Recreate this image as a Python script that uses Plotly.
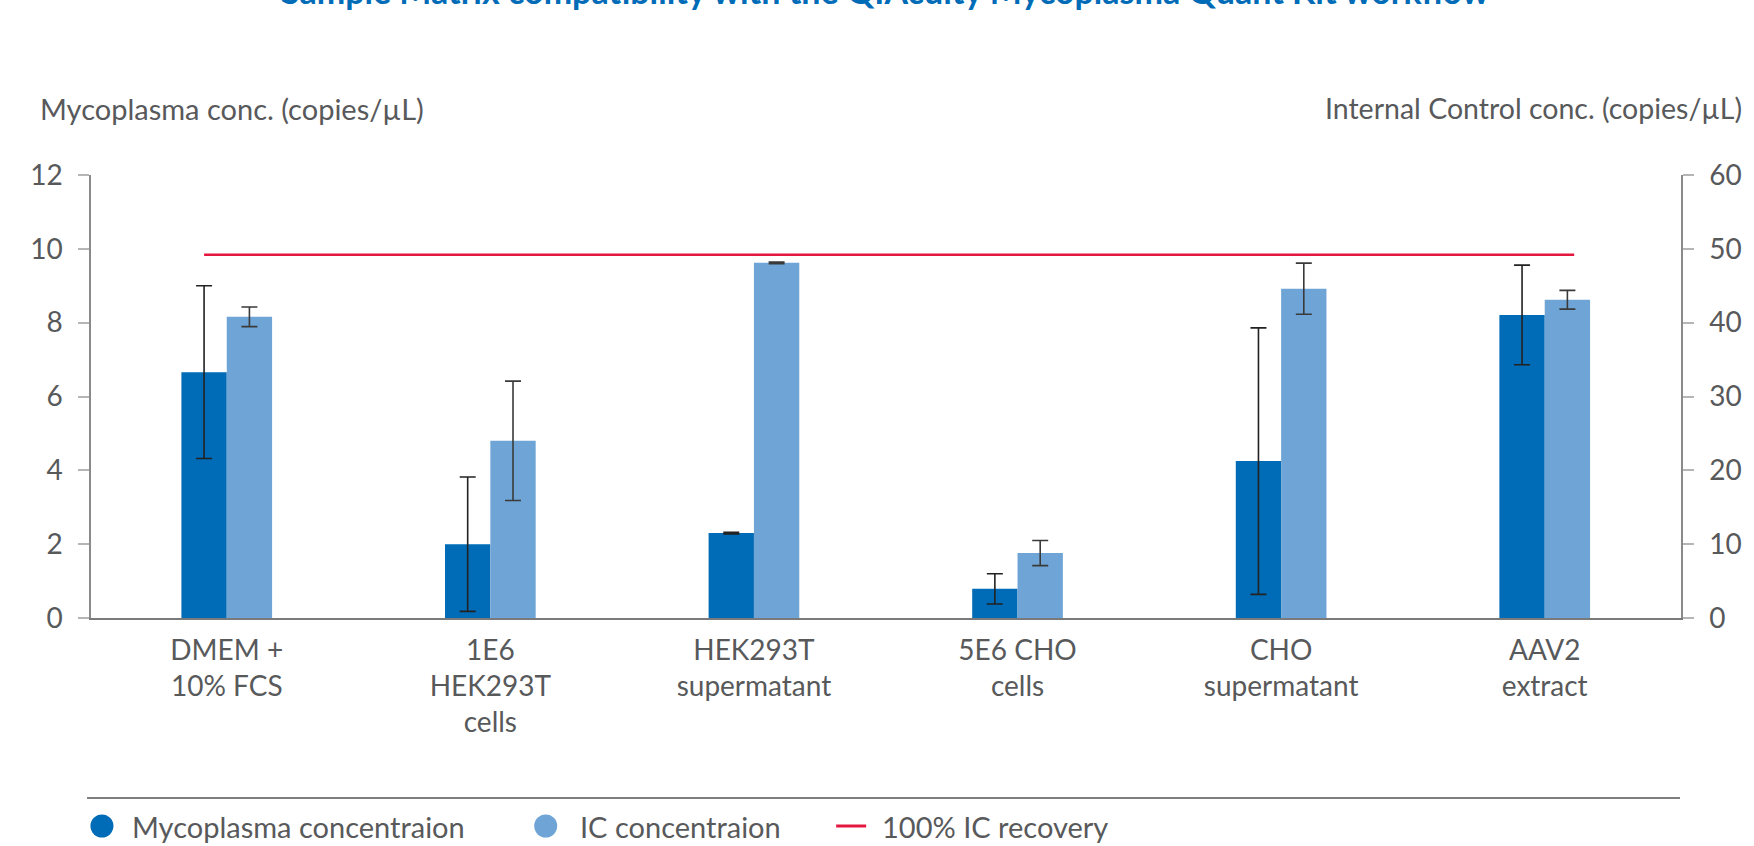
import plotly.graph_objects as go

# ---------------- data ----------------
categories = ["DMEM +<br>10% FCS", "1E6<br>HEK293T<br>cells", "HEK293T<br>supermatant",
              "5E6 CHO<br>cells", "CHO<br>supermatant", "AAV2<br>extract"]
myco_conc = [6.66, 2.00, 2.30, 0.79, 4.25, 8.21]
myco_err = [2.34, 1.82, 0.02, 0.41, 3.61, 1.35]
ic_conc = [40.8, 24.0, 48.1, 8.8, 44.6, 43.1]
ic_err = [1.33, 8.08, 0.10, 1.70, 3.47, 1.27]
ic_recovery_100 = 49.2
left_ticks = [0, 2, 4, 6, 8, 10, 12]
right_ticks = [0, 10, 20, 30, 40, 50, 60]

# ---------------- style ----------------
FONT = "Lato"
TXT = "#58595b"
DARK = "#006bb6"
LIGHT = "#6fa5d6"
RED = "#e4173e"
BAR_W = 0.172

W, H = 1754, 846
ML, MR, MT, MB = 91, 65, 175, 228
PW = W - ML - MR
PH = H - MT - MB


def px_x(p):
    return (p - ML) / PW


def px_y(p):
    return (H - MB - p) / PH


xs = list(range(len(categories)))

fig = go.Figure()
fig.add_trace(go.Bar(
    x=xs, y=myco_conc, width=BAR_W, offset=-BAR_W, marker_color=DARK,
    marker_line_width=0, showlegend=False,
    error_y=dict(type="data", array=myco_err, color="#222222", thickness=1.6, width=8),
    yaxis="y"))
fig.add_trace(go.Bar(
    x=xs, y=ic_conc, width=BAR_W, offset=0, marker_color=LIGHT,
    marker_line_width=0, showlegend=False,
    error_y=dict(type="data", array=ic_err, color="#3a3a3a", thickness=1.6, width=8),
    yaxis="y2"))
fig.add_trace(go.Scatter(
    x=[xs[0] - BAR_W / 2, xs[-1] + BAR_W * 0.65],
    y=[ic_recovery_100, ic_recovery_100], mode="lines",
    line=dict(color=RED, width=2.5), showlegend=False, yaxis="y2"))

tickfont = dict(family=FONT, size=28, color=TXT)
fig.update_layout(
    width=W, height=H,
    margin=dict(l=ML, r=MR, t=MT, b=MB),
    paper_bgcolor="white", plot_bgcolor="white",
    font=dict(family=FONT, color=TXT),
    barmode="overlay",
    xaxis=dict(range=[-0.515, 5.517], tickvals=xs, ticktext=categories,
               tickfont=tickfont, showgrid=False, zeroline=False,
               showline=True, linecolor="#7a7a7a", linewidth=2,
               ticks="", ticklabelstandoff=6),
    yaxis=dict(range=[0, 12], tickvals=left_ticks, tickfont=tickfont,
               showgrid=False, zeroline=False, showline=True,
               linecolor="#8a8a8a", linewidth=1.5, ticks="outside",
               ticklen=11, tickcolor="#b5b5b5", tickwidth=1.5,
               ticklabelstandoff=10),
    yaxis2=dict(range=[0, 60], tickvals=right_ticks, tickfont=tickfont,
                overlaying="y", side="right", showgrid=False, zeroline=False,
                showline=True, linecolor="#8a8a8a", linewidth=1.5,
                ticks="outside", ticklen=11, tickcolor="#b5b5b5",
                tickwidth=1.5, ticklabelstandoff=10),
)

annotations = [
    dict(text="<b>Sample Matrix compatibility with the QIAcuity Mycoplasma Quant Kit workflow</b>",
         xref="paper", yref="paper", x=px_x(889), y=px_y(13),
         xanchor="center", yanchor="bottom", showarrow=False,
         font=dict(family=FONT, size=34, color=DARK)),
    dict(text="Mycoplasma conc. (copies/µL)", xref="paper", yref="paper",
         x=px_x(38), y=px_y(108), xanchor="left", yanchor="middle",
         showarrow=False, font=dict(family=FONT, size=29, color=TXT)),
    dict(text="Internal Control conc. (copies/µL)", xref="paper", yref="paper",
         x=px_x(1752), y=px_y(108), xanchor="right", yanchor="middle",
         showarrow=False, font=dict(family=FONT, size=28.5, color=TXT)),
]

shapes = [
    dict(type="line", xref="paper", yref="paper", x0=px_x(87), x1=px_x(1688),
         y0=px_y(798), y1=px_y(798), line=dict(color="#555555", width=1.5)),
]

# custom legend
legend_items = [
    ("marker", DARK, 102, 130, "Mycoplasma concentraion"),
    ("marker", LIGHT, 548, 580, "IC concentraion"),
    ("line", RED, 855, 884, "100% IC recovery"),
]
LEG_Y = 826
for kind, col, cx, tx, label in legend_items:
    if kind == "marker":
        shapes.append(dict(type="circle", xref="paper", yref="paper",
                           xsizemode="pixel", ysizemode="pixel",
                           xanchor=px_x(cx), yanchor=px_y(LEG_Y),
                           x0=-11.5, x1=11.5, y0=-11.5, y1=11.5,
                           fillcolor=col, line=dict(width=0)))
    else:
        shapes.append(dict(type="line", xref="paper", yref="paper",
                           xsizemode="pixel", xanchor=px_x(cx),
                           x0=-15, x1=15, y0=px_y(LEG_Y), y1=px_y(LEG_Y),
                           line=dict(color=col, width=3)))
    annotations.append(dict(text=label, xref="paper", yref="paper",
                            x=px_x(tx), y=px_y(LEG_Y), xanchor="left",
                            yanchor="middle", showarrow=False,
                            font=dict(family=FONT, size=29, color=TXT)))

fig.update_layout(annotations=annotations, shapes=shapes)
fig.write_html(
    "out.html",
    config={"displayModeBar": False},
    post_script="document.body.style.margin='0';document.body.style.overflow='hidden';",
)
